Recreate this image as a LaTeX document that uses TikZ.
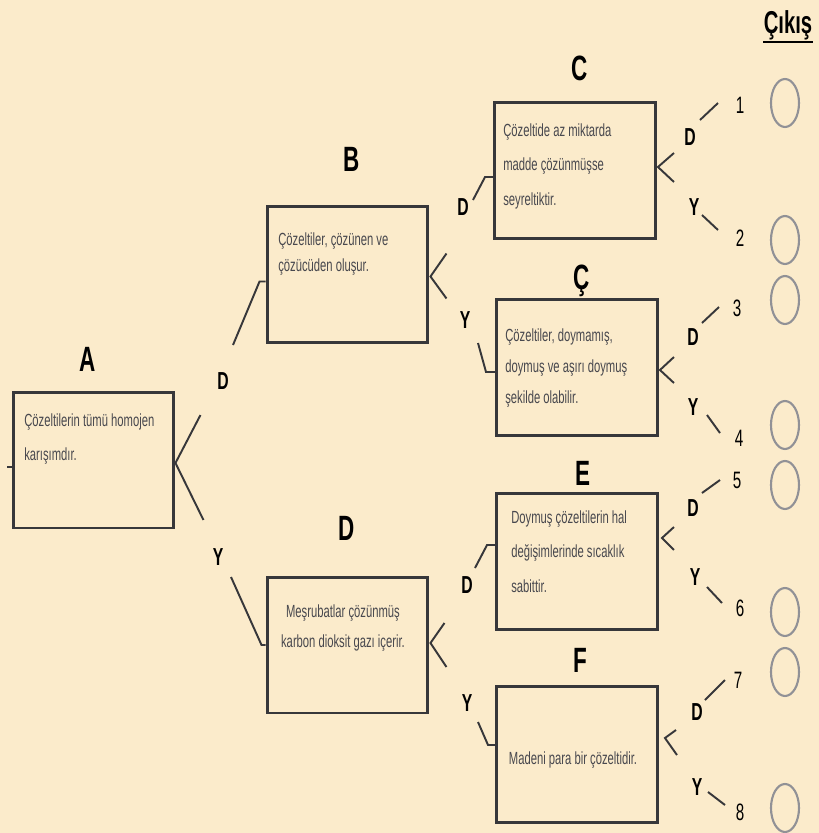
\documentclass[tikz,border=0pt]{standalone}
\usepackage{fontspec}
\setmainfont{Liberation Sans}
\newfontfamily\kutufont[FakeStretch=0.64]{Liberation Sans}
\newfontfamily\harffont[FakeStretch=0.64]{Liberation Sans}
\usetikzlibrary{shapes.geometric}
\definecolor{zemin}{RGB}{251,235,203}
\definecolor{cizgi}{RGB}{55,55,58}
\definecolor{yazigri}{RGB}{72,72,78}
\definecolor{halkagri}{RGB}{145,145,150}
\tikzset{
  kutu/.style={
    rectangle, draw=cizgi, line width=1.7pt, inner sep=0pt,
    minimum width=3.22cm, minimum height=2.72cm
  },
  kyazi/.style={font=\kutufont\fontsize{10}{19.8}\selectfont, text=yazigri,
    inner sep=0pt, align=left, anchor=north west},
  baslik/.style={font=\harffont\bfseries\fontsize{20}{24}\selectfont, inner sep=0pt, anchor=base},
  secim/.style={font=\harffont\bfseries\fontsize{14}{16}\selectfont, inner sep=0pt},
  numara/.style={font=\harffont\fontsize{13.5}{16}\selectfont, inner sep=0pt},
  bosdaire/.style={ellipse, draw=halkagri, line width=1.2pt, inner sep=0pt,
    minimum width=0.56cm, minimum height=0.96cm},
  hat/.style={draw=cizgi, line width=1.1pt}
}
\begin{document}
\begin{tikzpicture}[x=0.02cm, y=-0.02cm]
    \fill[zemin] (0,0) rectangle (819,833);
    \useasboundingbox (0,0) rectangle (819,833);
    % Kutular
    \node[kutu] (kA)  at (93.5,460)   {};
    \node[kutu] (kB)  at (347.5,274.5) {};
    \node[kutu] (kD)  at (347.5,645)  {};
    \node[kutu] (kC)  at (575,170.5)  {};
    \node[kutu] (kCc) at (577,367.5)  {};
    \node[kutu] (kE)  at (577,561.5)  {};
    \node[kutu] (kF)  at (577,754.5)  {};
    % Basliklar
    \node[baslik] (tA)  at (88,371)  {A};
    \node[baslik] (tB)  at (352,171) {B};
    \node[baslik] (tD)  at (347,540) {D};
    \node[baslik] (tC)  at (580,80)  {C};
    \node[baslik] (tCc) at (582,289) {Ç};
    \node[baslik] (tE)  at (583,485) {E};
    \node[baslik] (tF)  at (580,672) {F};
    \node[font=\harffont\bfseries\fontsize{18}{20}\selectfont, inner sep=0pt, anchor=base]
                  (cikis) at (788,33) {Çıkış};
    \draw[line width=1.3pt] ([yshift=-1pt]cikis.south west) -- ([yshift=-1pt]cikis.south east);
    % Metinler
    \node[kyazi] (xA)  at (24,413)  {Çözeltilerin tümü homojen\\karışımdır.};
    \node[kyazi, font=\kutufont\fontsize{10}{15.3}\selectfont]
                 (xB)  at (278,232) {Çözeltiler, çözünen ve\\çözücüden oluşur.};
    \node[kyazi, align=center, anchor=center, font=\kutufont\fontsize{10}{17}\selectfont]
                 (xD)  at (343,628) {Meşrubatlar çözünmüş\\karbon dioksit gazı içerir.};
    \node[kyazi] (xC)  at (503,123) {Çözeltide az miktarda\\madde çözünmüşse\\seyreltiktir.};
    \node[kyazi, font=\kutufont\fontsize{10}{17.9}\selectfont]
                 (xCc) at (505,328) {Çözeltiler, doymamış,\\doymuş ve aşırı doymuş\\şekilde olabilir.};
    \node[kyazi] (xE)  at (511,510) {Doymuş çözeltilerin hal\\değişimlerinde sıcaklık\\sabittir.};
    \node[kyazi, anchor=center] (xF) at (573,760) {Madeni para bir çözeltidir.};
    % Dallanmalar
    \draw[hat] ([shift={(0,7)}]kA.west) -- ++(-5,0);
    \draw[hat] ([shift={(25,-45)}]kA.east) -- ([shift={(0,3)}]kA.east) -- ([shift={(28,60)}]kA.east);
    \draw[hat] ([shift={(17,-21)}]kB.east) -- ([shift={(1,2)}]kB.east) -- ([shift={(17,24)}]kB.east);
    \draw[hat] ([shift={(15,-22)}]kD.east) -- ([shift={(1,-2)}]kD.east) -- ([shift={(17,22)}]kD.east);
    \draw[hat] ([shift={(17,-17.5)}]kC.east) -- ([shift={(1,-3.5)}]kC.east) -- ([shift={(17,11.5)}]kC.east);
    \draw[hat] ([shift={(15,-10.5)}]kCc.east) -- ([shift={(1,2.5)}]kCc.east) -- ([shift={(15,15.5)}]kCc.east);
    \draw[hat] ([shift={(15,-34.5)}]kE.east) -- ([shift={(3,-23.5)}]kE.east) -- ([shift={(15,-11.5)}]kE.east);
    \draw[hat] ([shift={(17,-24.5)}]kF.east) -- ([shift={(6,-16.5)}]kF.east) -- ([shift={(18,0.5)}]kF.east);
    % D / Y secimleri
    \node[secim] (dA) at (223,381) {D};
    \node[secim] (yA) at (218,557) {Y};
    \node[secim] (dB) at (463,207) {D};
    \node[secim] (yB) at (465,320) {Y};
    \node[secim] (dD) at (467,585) {D};
    \node[secim] (yD) at (467,703) {Y};
    \draw[hat] ([shift={(10,-36)}]dA.center) -- ([shift={(-6,7)}]kB.west) -- ([shift={(0,7)}]kB.west);
    \draw[hat] ([shift={(13,20)}]yA.center) -- ([shift={(-4,0)}]kD.west) -- (kD.west);
    \draw[hat] ([shift={(10,-7)}]dB.center) -- ([shift={(-8,6.5)}]kC.west) -- ([shift={(0,6.5)}]kC.west);
    \draw[hat] ([shift={(13,23)}]yB.center) -- ([shift={(-9,4.5)}]kCc.west) -- ([shift={(0,4.5)}]kCc.west);
    \draw[hat] ([shift={(8,-17)}]dD.center) -- ([shift={(-8,-16.5)}]kE.west) -- ([shift={(0,-16.5)}]kE.west);
    \draw[hat] ([shift={(11,19)}]yD.center) -- ([shift={(-7,-9.5)}]kF.west) -- ([shift={(0,-9.5)}]kF.west);
    % Cikislar
    \node[secim] (dC)  at (690,137) {D};
    \node[secim] (yC)  at (694,207) {Y};
    \node[secim] (dCc) at (693,337) {D};
    \node[secim] (yCc) at (693,407) {Y};
    \node[secim] (dE)  at (693,508) {D};
    \node[secim] (yE)  at (695,577) {Y};
    \node[secim] (dF)  at (697,712) {D};
    \node[secim] (yF)  at (697,787) {Y};
    \node[numara] (n1) at (740,105) {1};
    \node[numara] (n2) at (740,238) {2};
    \node[numara] (n3) at (737,308) {3};
    \node[numara] (n4) at (739,438) {4};
    \node[numara] (n5) at (737,480) {5};
    \node[numara] (n6) at (740,608) {6};
    \node[numara] (n7) at (738,680) {7};
    \node[numara] (n8) at (740,812) {8};
    \draw[hat] ([shift={(10,-17)}]dC.center)  -- ([shift={(-22,-2)}]n1.center);
    \draw[hat] ([shift={(8,8)}]yC.center)     -- ([shift={(-22,-8)}]n2.center);
    \draw[hat] ([shift={(9,-14)}]dCc.center)  -- ([shift={(-18,-1)}]n3.center);
    \draw[hat] ([shift={(14,8)}]yCc.center)   -- ([shift={(-19,-5)}]n4.center);
    \draw[hat] ([shift={(9,-15)}]dE.center)   -- ([shift={(-17,0)}]n5.center);
    \draw[hat] ([shift={(12,10)}]yE.center)   -- ([shift={(-18,-5)}]n6.center);
    \draw[hat] ([shift={(8,-12)}]dF.center)   -- ([shift={(-13,0)}]n7.center);
    \draw[hat] ([shift={(11,5)}]yF.center)    -- ([shift={(-15,-7)}]n8.center);
    \node[bosdaire] (o1) at (785,103) {};
    \node[bosdaire] (o2) at (785,240) {};
    \node[bosdaire] (o3) at (785,300) {};
    \node[bosdaire] (o4) at (785,425) {};
    \node[bosdaire] (o5) at (785,485) {};
    \node[bosdaire] (o6) at (785,612) {};
    \node[bosdaire] (o7) at (785,672) {};
    \node[bosdaire] (o8) at (785,808) {};
\end{tikzpicture}
\end{document}
